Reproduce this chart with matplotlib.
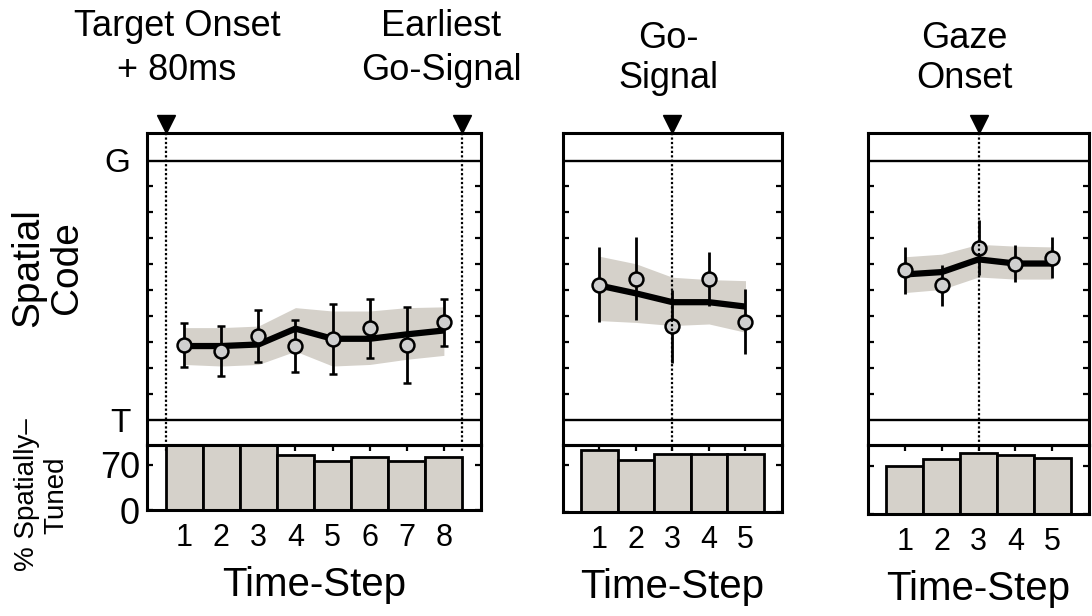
import matplotlib
matplotlib.use("Agg")
import matplotlib.pyplot as plt
import matplotlib.transforms as mtransforms
import numpy as np

plt.rcParams['font.family'] = ['Liberation Sans', 'DejaVu Sans']

# --- data -------------------------------------------------------------------
p1_steps = [1, 2, 3, 4, 5, 6, 7, 8]
p1_points = [0.289, 0.266, 0.323, 0.285, 0.313, 0.353, 0.289, 0.377]
p1_err = [0.085, 0.095, 0.10, 0.10, 0.134, 0.115, 0.145, 0.09]
p1_fit = [0.285, 0.285, 0.291, 0.352, 0.313, 0.313, 0.33, 0.345]
p1_upper = [0.356, 0.356, 0.362, 0.433, 0.42, 0.42, 0.433, 0.436]
p1_lower = [0.214, 0.208, 0.214, 0.265, 0.208, 0.214, 0.234, 0.249]
p1_tuned = [100, 100, 100, 85, 75, 81, 75, 81]

p2_steps = [1, 2, 3, 4, 5]
p2_points = [0.521, 0.544, 0.361, 0.544, 0.379]
p2_err = [0.145, 0.16, 0.14, 0.104, 0.125]
p2_fit = [0.518, 0.488, 0.454, 0.454, 0.437]
p2_upper = [0.631, 0.602, 0.55, 0.541, 0.537]
p2_lower = [0.383, 0.376, 0.364, 0.37, 0.338]
p2_tuned = [92, 77, 86, 86, 86]

p3_steps = [1, 2, 3, 4, 5]
p3_points = [0.577, 0.519, 0.664, 0.603, 0.626]
p3_err = [0.09, 0.08, 0.105, 0.07, 0.08]
p3_fit = [0.561, 0.57, 0.619, 0.603, 0.603]
p3_upper = [0.629, 0.639, 0.677, 0.67, 0.667]
p3_lower = [0.491, 0.503, 0.551, 0.543, 0.543]
p3_tuned = [69, 79, 89, 86, 81]

# event markers (in time-step units) and their captions
p1_events = [0.5, 8.5]
p2_events = [3]
p3_events = [3]
event_titles = [("Target Onset", "+ 80ms"), ("Earliest", "Go-Signal"),
                ("Go-", "Signal"), ("Gaze", "Onset")]

# --- layout -----------------------------------------------------------------
W, H = 1092, 616
fig = plt.figure(figsize=(W / 100, H / 100), dpi=100)

TOP, SPLIT = 133, 445
G_PX, T_PX = 160.5, 420.0
scale = (T_PX - G_PX)
ylim_code = (-(SPLIT - T_PX) / scale, 1 + (G_PX - TOP) / scale)

panels = [
    dict(x0=147, x1=481, bottom=510, xlim=(0, 9), steps=p1_steps, pts=p1_points,
         err=p1_err, fit=p1_fit, up=p1_upper, lo=p1_lower, tuned=p1_tuned,
         events=p1_events, cap=3),
    dict(x0=563, x1=782, bottom=512, xlim=(0, 6), steps=p2_steps, pts=p2_points,
         err=p2_err, fit=p2_fit, up=p2_upper, lo=p2_lower, tuned=p2_tuned,
         events=p2_events, cap=0),
    dict(x0=868, x1=1089, bottom=514, xlim=(0, 6), steps=p3_steps, pts=p3_points,
         err=p3_err, fit=p3_fit, up=p3_upper, lo=p3_lower, tuned=p3_tuned,
         events=p3_events, cap=0),
]

BAND = '#d5d1ca'
DOT_FACE = '#cfcfcf'
SPINE_W = 2.2

def px_rect(x0, x1, y0, y1):
    return [x0 / W, 1 - y1 / H, (x1 - x0) / W, (y1 - y0) / H]

for i, p in enumerate(panels):
    ax = fig.add_axes(px_rect(p['x0'], p['x1'], TOP, SPLIT))
    axb = fig.add_axes(px_rect(p['x0'], p['x1'], SPLIT, p['bottom']), sharex=ax)
    axb.patch.set_facecolor('none')

    # spatial code panel
    ax.set_xlim(*p['xlim'])
    ax.set_ylim(*ylim_code)
    ax.fill_between(p['steps'], p['lo'], p['up'], color=BAND, lw=0, zorder=1)
    ax.plot(p['steps'], p['fit'], color='black', lw=4.5, zorder=3,
            solid_capstyle='butt')
    ax.errorbar(p['steps'], p['pts'], yerr=p['err'], fmt='o', ms=10,
                mfc=DOT_FACE, mec='black', mew=1.8, ecolor='black',
                elinewidth=2.0, capsize=p['cap'], capthick=2.0, zorder=4)
    ax.axhline(1, color='black', lw=1.7)
    ax.axhline(0, color='black', lw=1.7)

    ax.set_yticks([0, 1])
    ax.set_yticks(np.arange(0.1, 0.95, 0.1), minor=True)
    ax.tick_params(axis='y', which='major', length=0, pad=12, labelsize=24)
    ax.tick_params(axis='y', which='minor', direction='in', length=4,
                   width=1.6, left=True, right=True)
    ax.tick_params(axis='x', which='both', bottom=False, labelbottom=False)
    if i == 0:
        ax.set_yticklabels(['T', 'G'])
    else:
        ax.set_yticklabels([])

    # event arrows and dotted lines
    tri = ax.get_xaxis_transform() + mtransforms.ScaledTranslation(
        0, 0.09, fig.dpi_scale_trans)
    for ev in p['events']:
        ax.plot([ev], [1], marker='v', ms=13, color='black',
                transform=tri, clip_on=False, zorder=6)
        ax.plot([ev, ev], [ylim_code[1], ylim_code[0] - 7 / scale],
                color='black', lw=1.6, ls=(0, (1, 1)), clip_on=False, zorder=5)

    for sp in ax.spines.values():
        sp.set_linewidth(SPINE_W)

    # percent spatially-tuned bars
    axb.bar(p['steps'], p['tuned'], width=1.0, color=BAND, edgecolor='black',
            linewidth=2.0, zorder=2)
    axb.set_ylim(0, 100)
    axb.set_xticks(p['steps'])
    axb.set_xticklabels([str(s) for s in p['steps']])
    axb.tick_params(axis='x', direction='in', length=4, width=1.6, top=True,
                    bottom=True, pad=9, labelsize=22)
    axb.set_yticks([0, 70])
    axb.tick_params(axis='y', direction='in', length=4, width=1.6, left=True,
                    right=True, pad=5, labelsize=26)
    if i != 0:
        axb.set_yticklabels([])
    axb.set_xlabel('Time-Step', fontsize=29, labelpad=10)
    for sp in axb.spines.values():
        sp.set_linewidth(SPINE_W)

# event captions above the arrows
title_x = [177, 441, 668, 964]
title_base = [(36, 80), (36, 80), (48, 88), (48, 88)]
for (l1, l2), x, (b1, b2) in zip(event_titles, title_x, title_base):
    fig.text(x / W, 1 - b1 / H, l1, ha='center', va='baseline', fontsize=26)
    fig.text(x / W, 1 - b2 / H, l2, ha='center', va='baseline', fontsize=26)

fig.text(48 / W, 1 - 268 / H, 'Spatial\nCode', rotation=90, ha='center',
         va='center', fontsize=28, linespacing=1.1)
fig.text(42 / W, 1 - 495 / H, '% Spatially\u2013\nTuned', rotation=90,
         ha='center', va='center', fontsize=20, linespacing=1.15)

fig.savefig('out.png', dpi=100)
